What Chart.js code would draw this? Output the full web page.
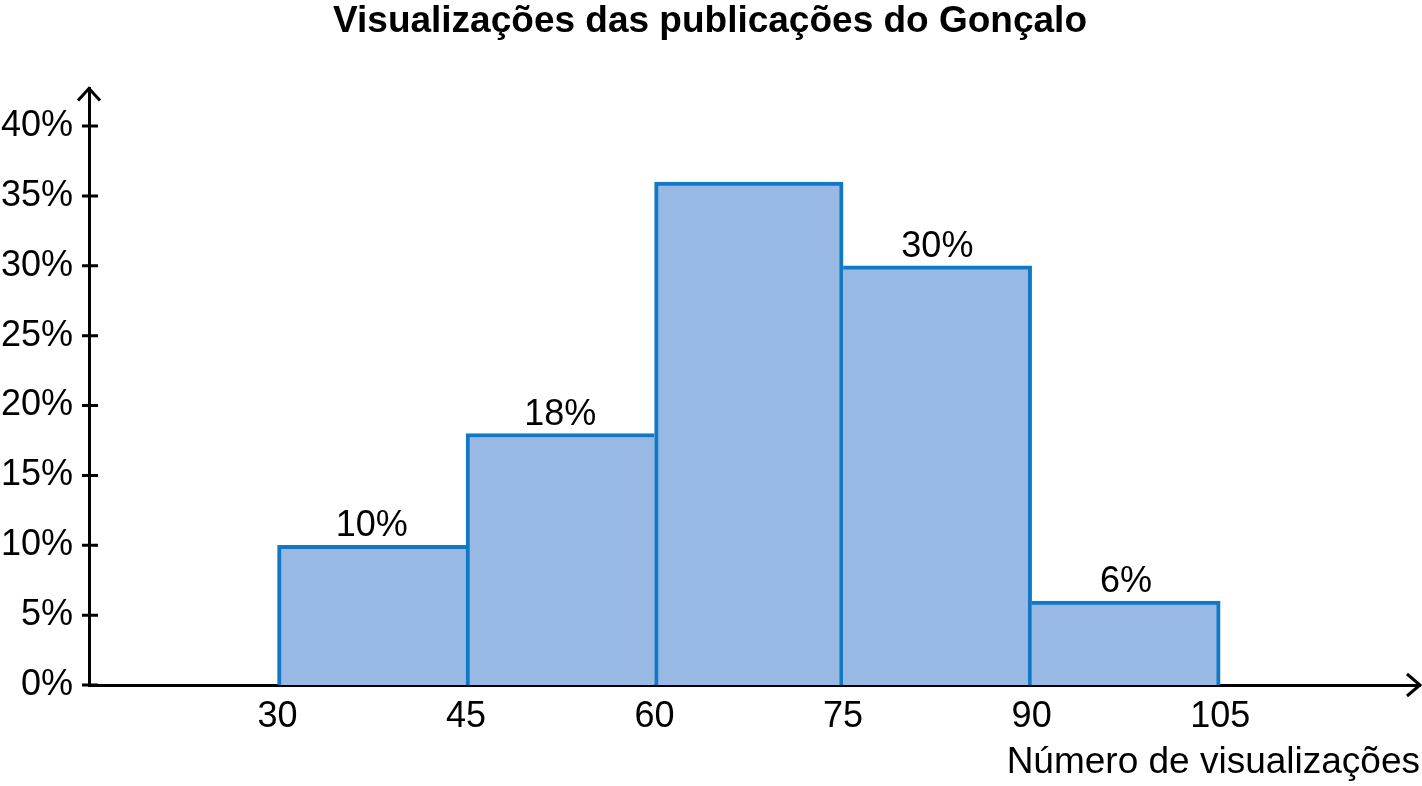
<!DOCTYPE html>
<html>
<head>
<meta charset="utf-8">
<script src="https://cdn.jsdelivr.net/npm/chart.js@4/dist/chart.umd.min.js"></script>
<style>
  body { margin: 0; background: #fff; }
  #wrap { width: 1422px; height: 786px; }
</style>
</head>
<body>
<div id="wrap"><canvas id="myChart"></canvas></div>
<script>
// classes of the histogram (start of each interval), width 15
var binStart = [30, 45, 60, 75, 90];
var binSize = 15;
var percent = [10, 18, 36, 30, 6];
var barLabels = ['10%', '18%', null, '30%', '6%'];
var xTicks = [30, 45, 60, 75, 90, 105];
var yTicks = [0, 5, 10, 15, 20, 25, 30, 35, 40];

var FONT = '"Liberation Sans", Arial, sans-serif';

var points = binStart.map(function(s, i) {
  return { x: s + binSize / 2, y: percent[i] };
});

// one line between neighbours: the taller bar draws the shared edge
function sides(c) {
  var i = c.dataIndex, n = percent.length;
  var prev = i > 0 ? percent[i - 1] : 0;
  var next = i < n - 1 ? percent[i + 1] : 0;
  return {
    top: 4,
    bottom: 0,
    left: percent[i] > prev ? 4 : 0,
    right: percent[i] >= next ? 4 : 0
  };
}

// arrows, crossing tick marks and the value labels over the bars
var decor = {
  id: 'decor',
  afterDraw: function(chart) {
    var ctx = chart.ctx;
    var a = chart.chartArea;
    var y = chart.scales.y;
    ctx.save();
    ctx.strokeStyle = '#000';
    ctx.lineWidth = 3;
    ctx.beginPath();
    ctx.moveTo(a.left - 11, a.top + 12);
    ctx.lineTo(a.left, a.top);
    ctx.lineTo(a.left + 11, a.top + 12);
    ctx.moveTo(a.right - 13, a.bottom - 11);
    ctx.lineTo(a.right, a.bottom);
    ctx.lineTo(a.right - 13, a.bottom + 11);
    yTicks.forEach(function(v) {
      var py = y.getPixelForValue(v);
      ctx.moveTo(a.left - 7, py);
      ctx.lineTo(a.left + 9, py);
    });
    ctx.stroke();

    ctx.fillStyle = '#000';
    ctx.font = '36px ' + FONT;
    ctx.textAlign = 'center';
    ctx.textBaseline = 'alphabetic';
    var meta = chart.getDatasetMeta(0);
    meta.data.forEach(function(bar, i) {
      if (!barLabels[i]) return;
      ctx.fillText(barLabels[i], bar.x, bar.y - 9);
    });
    ctx.restore();
  }
};

var ctx = document.getElementById('myChart');
var chart = new Chart(ctx, {
  type: 'bar',
  data: {
    datasets: [{
      data: points,
      backgroundColor: '#97b9e3',
      borderColor: '#0f79c6',
      borderWidth: sides,
      borderSkipped: false,
      barPercentage: 1,
      categoryPercentage: 1
    }]
  },
  plugins: [decor],
  options: {
    responsive: true,
    maintainAspectRatio: false,
    animation: false,
    layout: { padding: { left: 0, right: 2, bottom: 1, top: 0 } },
    plugins: {
      legend: { display: false },
      tooltip: { enabled: false },
      title: {
        display: true,
        text: 'Visualizações das publicações do Gonçalo',
        color: '#000',
        font: { family: FONT, size: 37, weight: 'bold' },
        padding: { top: 0, bottom: 44 }
      }
    },
    scales: {
      x: {
        type: 'linear',
        offset: false,
        min: 15,
        max: 120.9,
        afterBuildTicks: function(s) {
          s.ticks = xTicks.map(function(v) { return { value: v }; });
        },
        afterFit: function(s) { s.height = 100; },
        grid: { display: false },
        border: { display: true, color: '#000', width: 3 },
        ticks: {
          color: '#000',
          font: { family: FONT, size: 36 },
          padding: 2,
          maxRotation: 0,
          autoSkip: false
        },
        title: {
          display: true,
          text: 'Número de visualizações',
          align: 'end',
          color: '#000',
          font: { family: FONT, size: 37 },
          padding: { top: 4, bottom: 0 }
        }
      },
      y: {
        min: 0,
        max: 42.7,
        afterBuildTicks: function(s) {
          s.ticks = yTicks.map(function(v) { return { value: v }; });
        },
        afterFit: function(s) { s.width = 89; },
        grid: { display: false },
        border: { display: true, color: '#000', width: 3 },
        ticks: {
          color: '#000',
          font: { family: FONT, size: 36 },
          padding: 8,
          callback: function(v) { return v + '%'; }
        }
      }
    }
  }
});
</script>
</body>
</html>
